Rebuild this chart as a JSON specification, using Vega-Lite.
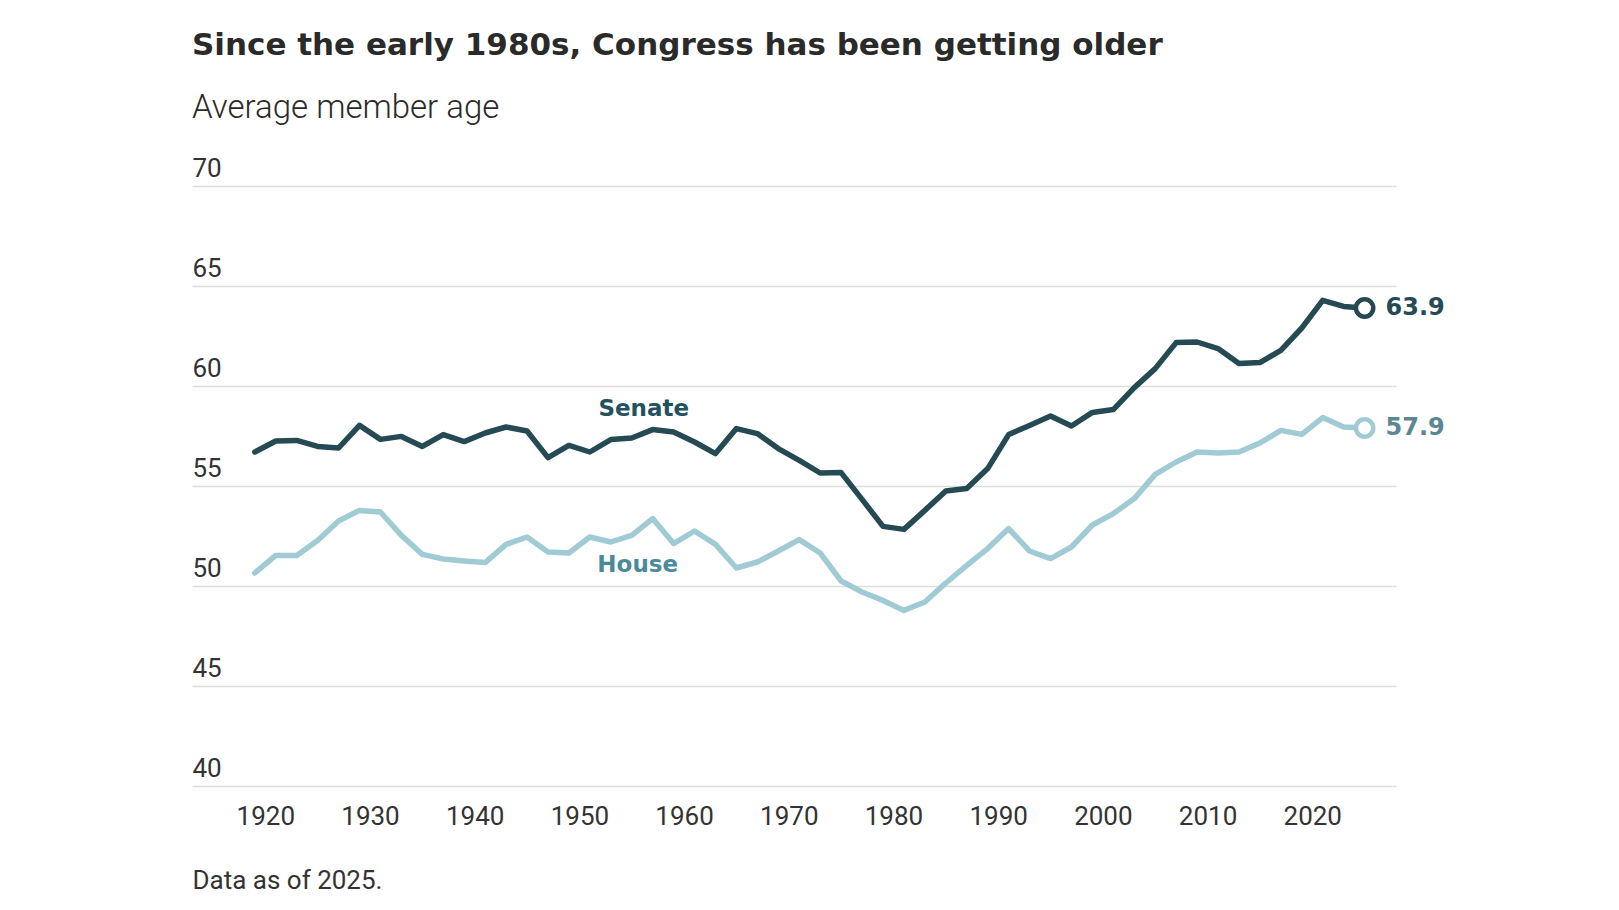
{
  "$schema": "https://vega.github.io/schema/vega-lite/v6.json",
  "autosize": "none",
  "width": 1204,
  "height": 600,
  "padding": {"left": 192, "top": 186, "right": 223, "bottom": 124},
  "background": "white",
  "config": {
    "view": {"stroke": null},
    "font": "Roboto"
  },
  "title": {
    "text": "Since the early 1980s, Congress has been getting older",
    "subtitle": "Average member age",
    "anchor": "start",
    "frame": "group",
    "font": "DejaVu Sans",
    "fontSize": 31,
    "fontWeight": "bold",
    "color": "#2a2a2a",
    "subtitleFont": "Roboto",
    "subtitleFontSize": 33,
    "subtitleFontWeight": 300,
    "subtitleColor": "#2a2a2a",
    "subtitlePadding": 30,
    "offset": 29
  },
  "data": {
    "values": [
      {"year": 1919, "series": "Senate", "age": 56.7},
      {"year": 1921, "series": "Senate", "age": 57.25},
      {"year": 1923, "series": "Senate", "age": 57.28},
      {"year": 1925, "series": "Senate", "age": 56.98},
      {"year": 1927, "series": "Senate", "age": 56.9},
      {"year": 1929, "series": "Senate", "age": 58.03},
      {"year": 1931, "series": "Senate", "age": 57.33},
      {"year": 1933, "series": "Senate", "age": 57.48},
      {"year": 1935, "series": "Senate", "age": 56.98},
      {"year": 1937, "series": "Senate", "age": 57.57},
      {"year": 1939, "series": "Senate", "age": 57.22},
      {"year": 1941, "series": "Senate", "age": 57.65},
      {"year": 1943, "series": "Senate", "age": 57.95},
      {"year": 1945, "series": "Senate", "age": 57.75},
      {"year": 1947, "series": "Senate", "age": 56.42},
      {"year": 1949, "series": "Senate", "age": 57.03},
      {"year": 1951, "series": "Senate", "age": 56.7},
      {"year": 1953, "series": "Senate", "age": 57.32},
      {"year": 1955, "series": "Senate", "age": 57.4},
      {"year": 1957, "series": "Senate", "age": 57.82},
      {"year": 1959, "series": "Senate", "age": 57.7},
      {"year": 1961, "series": "Senate", "age": 57.2},
      {"year": 1963, "series": "Senate", "age": 56.62},
      {"year": 1965, "series": "Senate", "age": 57.87},
      {"year": 1967, "series": "Senate", "age": 57.62},
      {"year": 1969, "series": "Senate", "age": 56.87},
      {"year": 1971, "series": "Senate", "age": 56.28},
      {"year": 1973, "series": "Senate", "age": 55.65},
      {"year": 1975, "series": "Senate", "age": 55.67},
      {"year": 1977, "series": "Senate", "age": 54.33},
      {"year": 1979, "series": "Senate", "age": 52.98},
      {"year": 1981, "series": "Senate", "age": 52.83},
      {"year": 1983, "series": "Senate", "age": 53.78},
      {"year": 1985, "series": "Senate", "age": 54.75},
      {"year": 1987, "series": "Senate", "age": 54.88},
      {"year": 1989, "series": "Senate", "age": 55.87},
      {"year": 1991, "series": "Senate", "age": 57.57},
      {"year": 1993, "series": "Senate", "age": 58.03},
      {"year": 1995, "series": "Senate", "age": 58.5},
      {"year": 1997, "series": "Senate", "age": 58.0},
      {"year": 1999, "series": "Senate", "age": 58.68},
      {"year": 2001, "series": "Senate", "age": 58.82},
      {"year": 2003, "series": "Senate", "age": 59.92},
      {"year": 2005, "series": "Senate", "age": 60.87},
      {"year": 2007, "series": "Senate", "age": 62.17},
      {"year": 2009, "series": "Senate", "age": 62.2},
      {"year": 2011, "series": "Senate", "age": 61.87},
      {"year": 2013, "series": "Senate", "age": 61.12},
      {"year": 2015, "series": "Senate", "age": 61.17},
      {"year": 2017, "series": "Senate", "age": 61.78},
      {"year": 2019, "series": "Senate", "age": 62.9},
      {"year": 2021, "series": "Senate", "age": 64.28},
      {"year": 2023, "series": "Senate", "age": 63.98},
      {"year": 2025, "series": "Senate", "age": 63.9},
      {"year": 1919, "series": "House", "age": 50.65},
      {"year": 1921, "series": "House", "age": 51.53},
      {"year": 1923, "series": "House", "age": 51.53},
      {"year": 1925, "series": "House", "age": 52.28},
      {"year": 1927, "series": "House", "age": 53.25},
      {"year": 1929, "series": "House", "age": 53.78},
      {"year": 1931, "series": "House", "age": 53.7},
      {"year": 1933, "series": "House", "age": 52.53},
      {"year": 1935, "series": "House", "age": 51.58},
      {"year": 1937, "series": "House", "age": 51.35},
      {"year": 1939, "series": "House", "age": 51.25},
      {"year": 1941, "series": "House", "age": 51.17},
      {"year": 1943, "series": "House", "age": 52.08},
      {"year": 1945, "series": "House", "age": 52.45},
      {"year": 1947, "series": "House", "age": 51.7},
      {"year": 1949, "series": "House", "age": 51.65},
      {"year": 1951, "series": "House", "age": 52.45},
      {"year": 1953, "series": "House", "age": 52.2},
      {"year": 1955, "series": "House", "age": 52.53},
      {"year": 1957, "series": "House", "age": 53.37},
      {"year": 1959, "series": "House", "age": 52.12},
      {"year": 1961, "series": "House", "age": 52.75},
      {"year": 1963, "series": "House", "age": 52.08},
      {"year": 1965, "series": "House", "age": 50.9},
      {"year": 1967, "series": "House", "age": 51.2},
      {"year": 1969, "series": "House", "age": 51.75},
      {"year": 1971, "series": "House", "age": 52.32},
      {"year": 1973, "series": "House", "age": 51.65},
      {"year": 1975, "series": "House", "age": 50.25},
      {"year": 1977, "series": "House", "age": 49.7},
      {"year": 1979, "series": "House", "age": 49.28},
      {"year": 1981, "series": "House", "age": 48.78},
      {"year": 1983, "series": "House", "age": 49.2},
      {"year": 1985, "series": "House", "age": 50.15},
      {"year": 1987, "series": "House", "age": 51.03},
      {"year": 1989, "series": "House", "age": 51.87},
      {"year": 1991, "series": "House", "age": 52.87},
      {"year": 1993, "series": "House", "age": 51.75},
      {"year": 1995, "series": "House", "age": 51.37},
      {"year": 1997, "series": "House", "age": 51.95},
      {"year": 1999, "series": "House", "age": 53.05},
      {"year": 2001, "series": "House", "age": 53.62},
      {"year": 2003, "series": "House", "age": 54.37},
      {"year": 2005, "series": "House", "age": 55.58},
      {"year": 2007, "series": "House", "age": 56.2},
      {"year": 2009, "series": "House", "age": 56.7},
      {"year": 2011, "series": "House", "age": 56.65},
      {"year": 2013, "series": "House", "age": 56.7},
      {"year": 2015, "series": "House", "age": 57.15},
      {"year": 2017, "series": "House", "age": 57.78},
      {"year": 2019, "series": "House", "age": 57.58},
      {"year": 2021, "series": "House", "age": 58.42},
      {"year": 2023, "series": "House", "age": 57.95},
      {"year": 2025, "series": "House", "age": 57.9}
    ]
  },
  "encoding": {
    "x": {
      "field": "year",
      "type": "quantitative",
      "scale": {"domain": [1913, 2028], "nice": false, "zero": false},
      "axis": {
        "values": [1920, 1930, 1940, 1950, 1960, 1970, 1980, 1990, 2000, 2010, 2020],
        "format": "d",
        "grid": false,
        "domain": false,
        "ticks": false,
        "tickSize": 0,
        "labelFont": "Roboto",
        "labelFontSize": 26,
        "labelColor": "#333333",
        "labelBaseline": "alphabetic",
        "labelPadding": 38,
        "labelFlush": false,
        "title": "Data as of 2025.",
        "titleFont": "Roboto",
        "titleFontSize": 26,
        "titleFontWeight": "normal",
        "titleColor": "#333333",
        "titleAlign": "left",
        "titleAnchor": "start",
        "titleBaseline": "alphabetic",
        "titleX": 0,
        "titleY": 102
      }
    },
    "y": {
      "field": "age",
      "type": "quantitative",
      "scale": {"domain": [40, 70], "nice": false, "zero": false},
      "axis": {
        "values": [40, 45, 50, 55, 60, 65, 70],
        "grid": true,
        "gridColor": "#dddddd",
        "gridWidth": 1.5,
        "domain": false,
        "ticks": false,
        "tickSize": 0,
        "labelAlign": "left",
        "labelBaseline": "alphabetic",
        "labelOffset": -10,
        "labelPadding": 0,
        "labelFont": "Roboto",
        "labelFontSize": 26,
        "labelColor": "#333333",
        "title": null
      }
    }
  },
  "layer": [
    {
      "mark": {"type": "line", "strokeWidth": 5.5, "strokeJoin": "round", "strokeCap": "round"},
      "encoding": {
        "color": {
          "field": "series",
          "type": "nominal",
          "scale": {"domain": ["Senate", "House"], "range": ["#264a53", "#a0cbd5"]},
          "legend": null
        }
      }
    },
    {
      "transform": [{"filter": "datum.year === 2025"}],
      "mark": {"type": "point", "shape": "circle", "filled": false, "fill": "white", "fillOpacity": 1, "size": 300, "strokeWidth": 4.5, "opacity": 1},
      "encoding": {
        "stroke": {
          "field": "series",
          "type": "nominal",
          "scale": {"domain": ["Senate", "House"], "range": ["#264a53", "#a0cbd5"]},
          "legend": null
        }
      }
    },
    {
      "transform": [{"filter": "datum.year === 2025"}],
      "mark": {"type": "text", "align": "left", "baseline": "middle", "dx": 21, "font": "DejaVu Sans", "fontSize": 24, "fontWeight": "bold"},
      "encoding": {
        "text": {"field": "age", "type": "quantitative", "format": ".1f"},
        "color": {
          "condition": {"test": "datum.series === 'Senate'", "value": "#264a53"},
          "value": "#5b8792"
        }
      }
    },
    {
      "transform": [{"filter": "datum.year === 1955 && datum.series === 'Senate'"}],
      "mark": {"type": "text", "align": "center", "baseline": "alphabetic", "dx": 12, "dy": -22, "font": "DejaVu Sans", "fontSize": 23, "fontWeight": "bold", "color": "#22525e"},
      "encoding": {
        "text": {"field": "series", "type": "nominal"}
      }
    },
    {
      "transform": [{"filter": "datum.year === 1955 && datum.series === 'House'"}],
      "mark": {"type": "text", "align": "center", "baseline": "alphabetic", "dx": 6, "dy": 37, "font": "DejaVu Sans", "fontSize": 23, "fontWeight": "bold", "color": "#4a8a9a"},
      "encoding": {
        "text": {"field": "series", "type": "nominal"}
      }
    }
  ]
}
